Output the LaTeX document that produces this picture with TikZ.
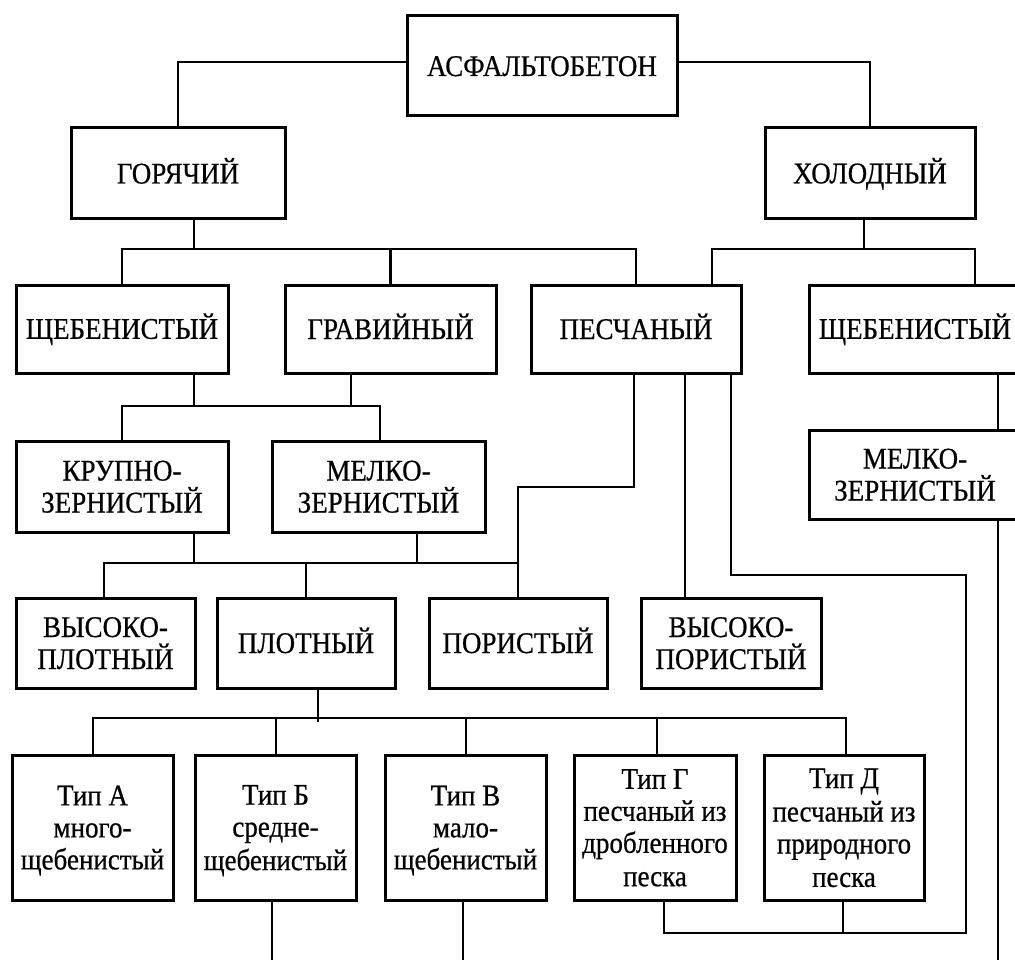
\documentclass[tikz,border=0pt]{standalone}
\usepackage{fontspec}
\setmainfont{Liberation Serif}[FakeStretch=0.9,FakeBold=0.6]
\newcommand{\st}{\rule[-6pt]{0pt}{32pt}}
\begin{document}
\begin{tikzpicture}[x=1pt,y=-1pt,
  box/.style={draw, line width=3pt, inner sep=0pt, outer sep=0pt, align=center,
    font=\fontsize{30}{32}\selectfont},
  link/.style={line width=2.2pt}]
\useasboundingbox (0,0) rectangle (1015,960);
\clip (0,0) rectangle (1015,960);
% row 0/1
\node[box, minimum width=270pt, minimum height=100pt] (asf) at (542,66) {\st АСФАЛЬТОБЕТОН};
\node[box, minimum width=214pt, minimum height=91pt] (gor) at (178,173.5) {\st ГОРЯЧИЙ};
\node[box, minimum width=210pt, minimum height=91pt] (hol) at (870,173.5) {\st ХОЛОДНЫЙ};
% row 2
\node[box, minimum width=212pt, minimum height=88pt] (sch1) at (122,329) {\st ЩЕБЕНИСТЫЙ};
\node[box, minimum width=211pt, minimum height=88pt] (grav) at (390.5,329) {\st ГРАВИЙНЫЙ};
\node[box, minimum width=210pt, minimum height=88pt] (pes) at (636,329) {\st ПЕСЧАНЫЙ};
\node[box, minimum width=212pt, minimum height=88pt] (sch2) at (915,329) {\st ЩЕБЕНИСТЫЙ};
% row 3
\node[box, minimum width=212pt, minimum height=91pt] (krup) at (122,486.5) {\st КРУПНО-\\\st ЗЕРНИСТЫЙ};
\node[box, minimum width=213pt, minimum height=91pt] (melk) at (378.5,486.5) {\st МЕЛКО-\\\st ЗЕРНИСТЫЙ};
\node[box, minimum width=212pt, minimum height=89pt] (melk2) at (915,474.5) {\st МЕЛКО-\\\st ЗЕРНИСТЫЙ};
% row 4
\node[box, minimum width=179pt, minimum height=90pt] (vp) at (105.5,643) {\st ВЫСОКО-\\\st ПЛОТНЫЙ};
\node[box, minimum width=178pt, minimum height=90pt] (plot) at (306,643) {\st ПЛОТНЫЙ};
\node[box, minimum width=178pt, minimum height=90pt] (por) at (518,643) {\st ПОРИСТЫЙ};
\node[box, minimum width=180pt, minimum height=90pt] (vpor) at (731,643) {\st ВЫСОКО-\\\st ПОРИСТЫЙ};
% row 5
\node[box, minimum width=161pt, minimum height=145pt] (ta) at (92.5,827.5) {\st Тип А\\\st много-\\\st щебенистый};
\node[box, minimum width=161pt, minimum height=145pt] (tb) at (275.5,827.5) {\st Тип Б\\\st средне-\\\st щебенистый};
\node[box, minimum width=161pt, minimum height=145pt] (tv) at (465.5,827.5) {\st Тип В\\\st мало-\\\st щебенистый};
\node[box, minimum width=162pt, minimum height=145pt] (tg) at (655,827.5) {\st Тип Г\\\st песчаный из\\\st дробленного\\\st песка};
\node[box, minimum width=160pt, minimum height=145pt] (td) at (844,827.5) {\st Тип Д\\\st песчаный из\\\st природного\\\st песка};
% free ends at the bottom edge
\coordinate (e1) at (998,962);
\coordinate (e2) at (272,962);
\coordinate (e3) at (463,962);
\coordinate (gd) at (0,933);
% connectors
\draw[link] (asf.west |- 0,62) -| (gor.north);
\draw[link] (asf.east |- 0,62) -| (hol.north);
% hot bus
\draw[link] ([xshift=16pt]gor.south) -- ++(0,30) coordinate (gb);
\draw[link] (sch1.north) |- (pes.north |- gb) -- (pes.north);
\draw[link] (grav.north) -- (grav.north |- gb);
% cold bus
\draw[link] ([xshift=-6pt]hol.south) -- ++(0,30) coordinate (hb);
\draw[link] ([xshift=76pt]pes.north) |- ([xshift=60pt]sch2.north |- hb) -- ([xshift=60pt]sch2.north);
% sch1 / grav -> krup / melk
\draw[link] ([xshift=72pt]sch1.south) -- ++(0,33) coordinate (kb);
\draw[link] ([xshift=-39.5pt]grav.south) -- ([xshift=-39.5pt]grav.south |- kb);
\draw[link] (krup.north) |- ([xshift=1.5pt]melk.north |- kb) -- ([xshift=1.5pt]melk.north);
% sch2 -> melk2
\draw[link] ([xshift=83pt]sch2.south) -- ([xshift=83pt]melk2.north);
% krup / melk -> row 4
\draw[link] ([xshift=72pt]krup.south) -- ++(0,31) coordinate (rb);
\draw[link] ([xshift=38.5pt]melk.south) -- ([xshift=38.5pt]melk.south |- rb);
\draw[link] ([xshift=-1.5pt]vp.north) |- (por.north |- rb);
\draw[link] (plot.north) -- (plot.north |- rb);
% pes -> por, vpor, and G/D
\draw[link] ([xshift=-2pt]pes.south) |- (por.north |- 0,487) -- (por.north);
\draw[link] ([xshift=49pt]pes.south) -- ([xshift=-46pt]vpor.north);
\draw[link] ([xshift=95pt]pes.south) |- (966,575) |- ([xshift=9pt]tg.south |- gd) -- ([xshift=9pt]tg.south);
\draw[link] ([xshift=-1pt]td.south) -- ([xshift=-1pt]td.south |- gd);
% melk2 -> bottom
\draw[link] ([xshift=83pt]melk2.south) -- (e1);
% plot -> types
\draw[link] ([xshift=12pt]plot.south) -- ++(0,34);
\draw[link] ([xshift=0.5pt]ta.north) |- ([xshift=2pt]td.north |- 0,718) -- ([xshift=2pt]td.north);
\draw[link] ([xshift=0.5pt]tb.north) -- ++(0,-37);
\draw[link] ([xshift=0.5pt]tv.north) -- ++(0,-37);
\draw[link] ([xshift=2pt]tg.north) -- ++(0,-37);
% B, V -> bottom
\draw[link] ([xshift=-3.5pt]tb.south) -- (e2);
\draw[link] ([xshift=-2.5pt]tv.south) -- (e3);
\end{tikzpicture}
\end{document}
